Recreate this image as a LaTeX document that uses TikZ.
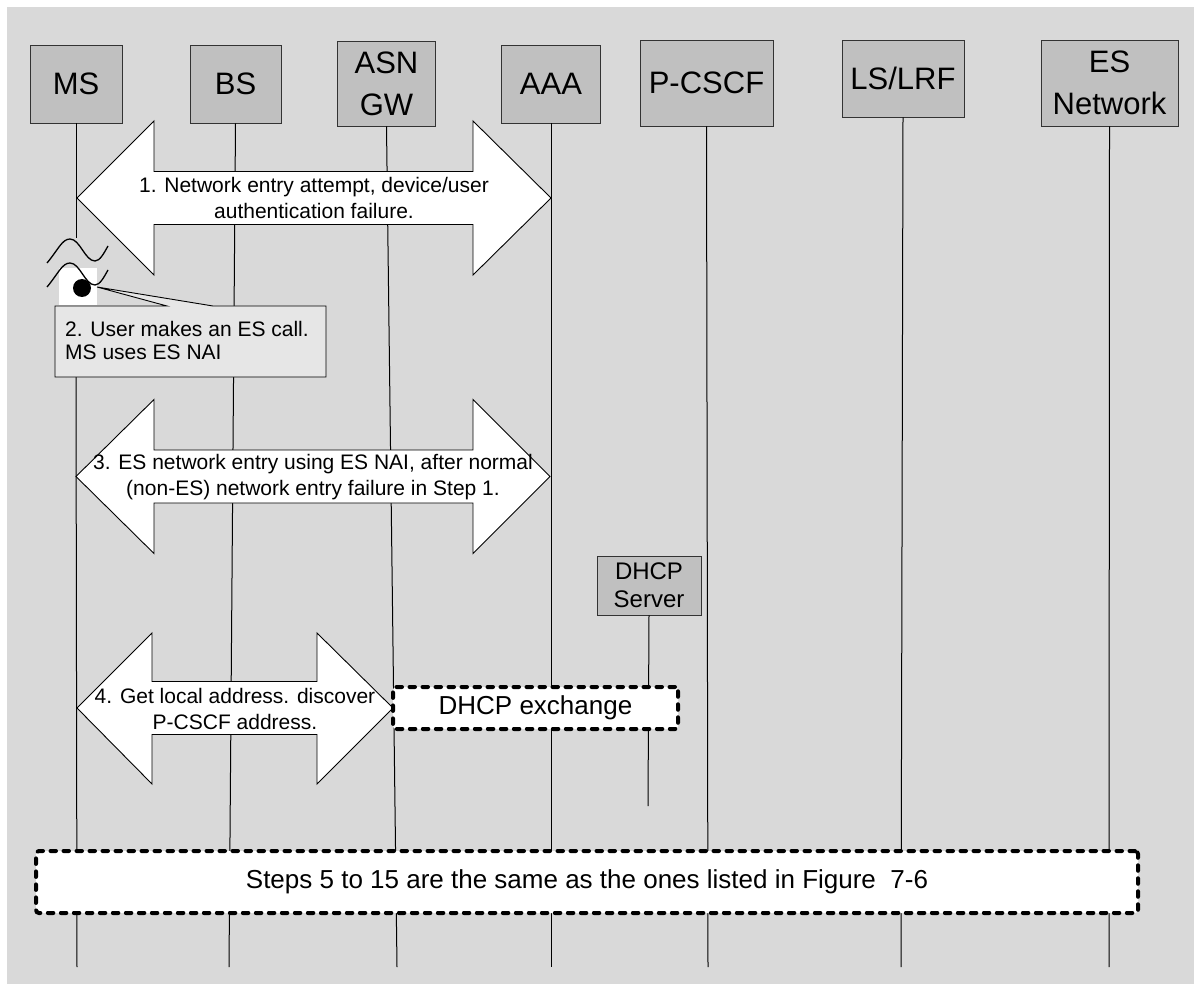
\documentclass[tikz,border=0pt]{standalone}
\usepackage{fontspec}
\setmainfont{Liberation Sans}
\definecolor{bggray}{HTML}{D9D9D9}
\definecolor{hdrgray}{HTML}{C0C0C0}
\definecolor{notegray}{HTML}{E6E6E6}
\begin{document}
\begin{tikzpicture}[x=1pt,y=-1pt,
  hdr/.style={draw=black!80,line width=0.9pt,fill=hdrgray,align=center,inner sep=0pt,font=\fontsize{31}{42}\selectfont},
  life/.style={line width=1pt,black},
  bigarrow/.style={draw=black,line width=0.9pt,fill=white,line join=miter},
  steptext/.style={align=center,inner sep=0pt,font=\fontsize{21}{26}\selectfont},
  dashbox/.style={draw=black,fill=white,line width=4pt,dash pattern=on 5.5pt off 7.5pt,line cap=round,rounded corners=3pt,inner sep=0pt,font=\fontsize{26}{30}\selectfont}]
  \useasboundingbox (0,0) rectangle (1194,984);
  \fill[bggray] (7,7) rectangle (1194,984);
  % entities
  \node[hdr,minimum width=92pt,minimum height=78pt] (ms) at (76,84) {MS};
  \node[hdr,minimum width=91pt,minimum height=78pt] (bs) at (235.5,84) {BS};
  \node[hdr,minimum width=98pt,minimum height=85pt] (asngw) at (386.5,83.5) {ASN\\GW};
  \node[hdr,minimum width=99pt,minimum height=78pt] (aaa) at (551,84) {AAA};
  \node[hdr,minimum width=133pt,minimum height=86pt] (pcscf) at (706.5,83) {P-CSCF};
  \node[hdr,minimum width=122pt,minimum height=77pt] (lslrf) at (903,78.5) {LS/LRF};
  \node[hdr,minimum width=137pt,minimum height=86pt] (esnet) at (1109.5,83) {ES\\Network};
  \node[hdr,minimum width=104pt,minimum height=59pt,font=\fontsize{24}{28}\selectfont] (dhcp) at (649,585.5) {DHCP\\Server};
  % lifelines
  \coordinate (ms-break) at (76,238);
  \coordinate (ms-resume) at (76,377);
  \coordinate (ms-end) at (77,967);
  \coordinate (bs-end) at (229,967);
  \coordinate (asngw-end) at (397,967);
  \coordinate (aaa-end) at (551,967);
  \coordinate (pcscf-end) at (708,967);
  \coordinate (lslrf-end) at (901,967);
  \coordinate (esnet-end) at (1109,967);
  \coordinate (dhcp-end) at (648,806);
  \draw[life] (ms.south) -- (ms-break);
  \draw[life] (ms-resume) -- (ms-end);
  \draw[life] (bs.south) -- (bs-end);
  \draw[life] (asngw.south) -- (asngw-end);
  \draw[life] (aaa.south) -- (aaa-end);
  \draw[life] (pcscf.south) -- (pcscf-end);
  \draw[life] (lslrf.south) -- (lslrf-end);
  \draw[life] (esnet.south) -- (esnet-end);
  \draw[life] (dhcp.south) -- (dhcp-end);
  % step 1
  \draw[bigarrow] (77,198) -- (154,121) -- (154,171.5) -- (473,171.5) -- (473,121) -- (551,198) -- (473,275) -- (473,224.5) -- (154,224.5) -- (154,275) -- cycle;
  \node[steptext] (step1) at (314,198) {1. Network entry attempt, device/user\\authentication failure.};
  % break and step 2
  \fill[white] (59,268) rectangle (97,305);
  \draw[line width=1.3pt] (47,263) .. controls (58,250) and (62,239) .. (70,239) .. controls (80,239) and (85,261) .. (95,261) .. controls (100,261) and (104,253) .. (108,246);
  \draw[line width=1.3pt] (47,287) .. controls (58,274) and (62,263) .. (70,263) .. controls (80,263) and (85,285) .. (95,285) .. controls (100,285) and (104,277) .. (108,270);
  \fill[black] (82,288) circle (9pt);
  \draw[line width=0.9pt,fill=notegray] (55,306) -- (167,306) -- (97,287) -- (213,306) -- (326,306) -- (326,377) -- (55,377) -- cycle;
  \node[anchor=north west,align=left,inner sep=0pt,font=\fontsize{21}{23}\selectfont] (note) at (65,321.5) {2. User makes an ES call.\\MS uses ES NAI};
  % step 3
  \draw[bigarrow] (76,476.5) -- (154,399.5) -- (154,450) -- (473,450) -- (473,399.5) -- (550,476.5) -- (473,553.5) -- (473,503) -- (154,503) -- (154,553.5) -- cycle;
  \node[steptext] (step3) at (313,477) {3. ES network entry using ES NAI, after normal\\(non-ES) network entry failure in Step 1.};
  % step 4
  \draw[bigarrow] (77,708) -- (152,633) -- (152,681.5) -- (317,681.5) -- (317,633) -- (393,708) -- (317,784) -- (317,734.5) -- (152,734.5) -- (152,784) -- cycle;
  \node[steptext] (step4) at (235,709) {4. Get local address. discover\\P-CSCF address.};
  \node[dashbox,minimum width=285pt,minimum height=42pt] (dhcpx) at (535.5,708) {DHCP exchange};
  % steps 5 to 15
  \node[dashbox,minimum width=1102pt,minimum height=62pt] (steps) at (587,882) {Steps 5 to 15 are the same as the ones listed in Figure~ 7-6};
\end{tikzpicture}
\end{document}
